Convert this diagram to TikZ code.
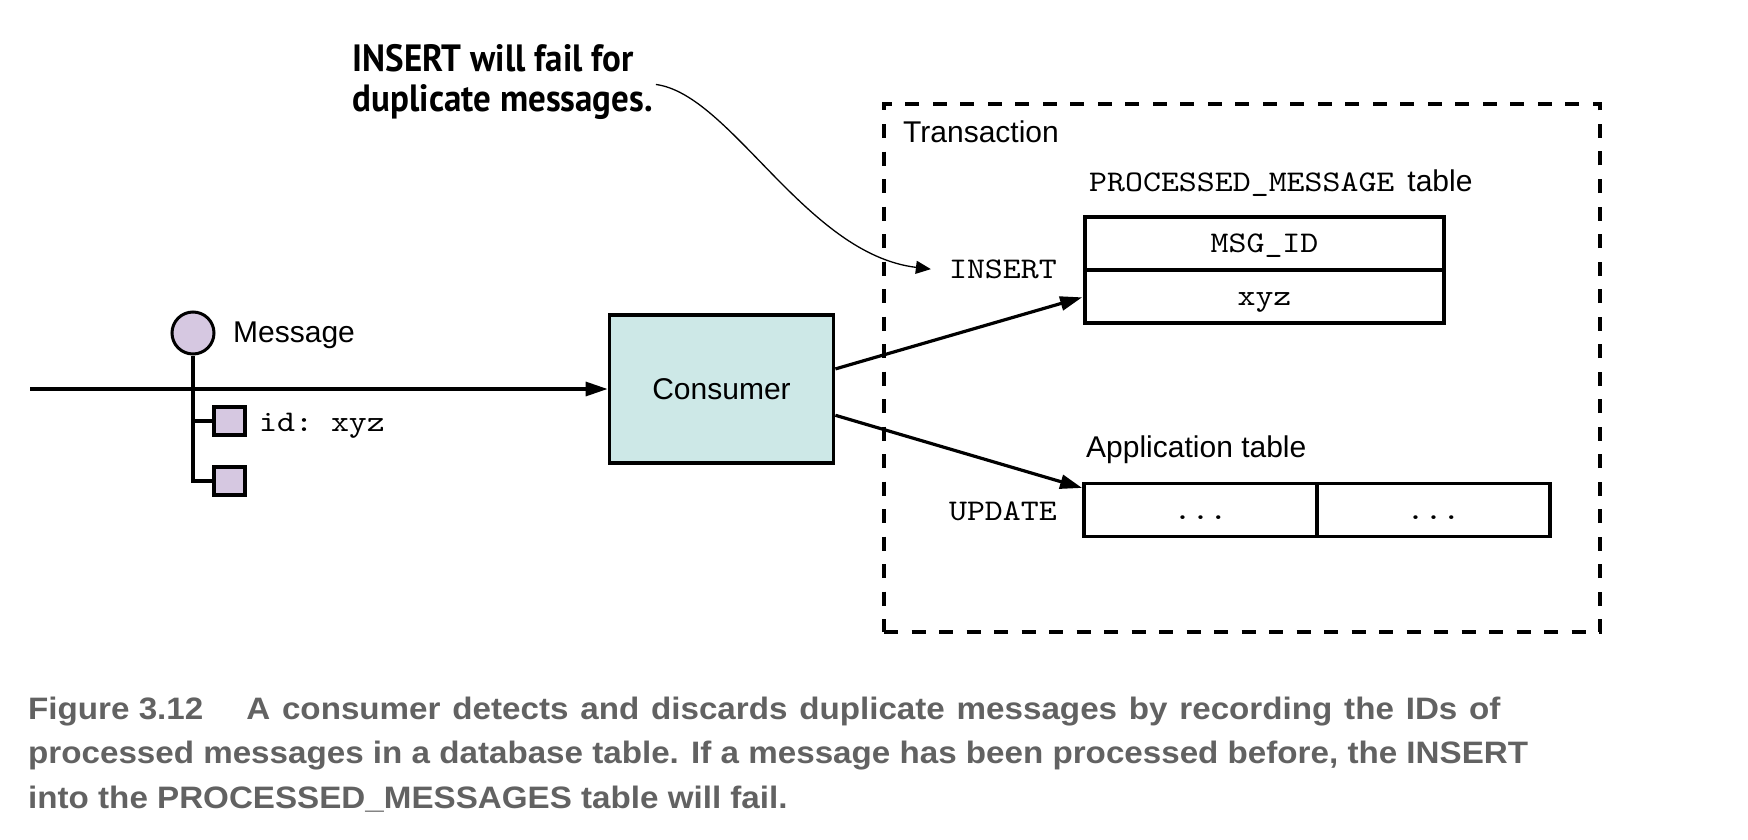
\documentclass[tikz,border=0pt]{standalone}
\usepackage{fontspec}
\setmainfont{Liberation Sans}
\setmonofont[FakeStretch=1.14]{lmmono10-regular.otf}
\newfontfamily\notefont[FakeStretch=0.92]{PT Sans}
\newfontfamily\captionfont[FakeStretch=1.07]{Liberation Sans}
\usetikzlibrary{arrows.meta,positioning,calc}

\definecolor{msgpurple}{HTML}{D6C8E1}
\definecolor{consumerteal}{HTML}{CDE8E7}
\definecolor{captiongray}{HTML}{626262}

\tikzset{
	lbl/.style={inner sep=0pt,font=\fontsize{30}{34}\selectfont},
	code/.style={inner sep=0pt,font=\fontsize{30}{34}\ttfamily},
	flow/.style={line width=3.2pt,-{Triangle[length=22pt,width=14pt]}},
	field/.style={draw,line width=3.2pt,fill=msgpurple,minimum width=31pt,minimum height=28pt,inner sep=0pt},
	tablecell/.style={draw,line width=3.6pt,outer sep=0pt,inner sep=0pt,minimum height=53pt,
		text height=22pt,text depth=4pt,font=\fontsize{30}{34}\ttfamily},
	calloutarrow/.style={line width=1.3pt,-{Triangle[length=15pt,width=13pt]}},
	notetext/.style={inner sep=0pt,font=\fontsize{38}{40}\notefont\bfseries},
	captionline/.style={inner sep=0pt,anchor=base west,text=captiongray,font=\fontsize{31}{40}\captionfont\bfseries}
}

\begin{document}
\begin{tikzpicture}[x=1pt,y=-1pt]
	\useasboundingbox (0,0) rectangle (1748,840);
	
	% message
	\node[draw,circle,line width=3pt,fill=msgpurple,minimum size=42pt,inner sep=0pt] (msg) at (193,333) {};
	\node[lbl,anchor=base west] (msglabel) at (233,342.7) {Message};
	\foreach \n/\y in {f1/421,f2/481}
	\node[field] (\n) at (229.5,\y) {};
	\draw[line width=3.2pt] (msg.south) |- (f2.west);
	\draw[line width=3.2pt] (msg.south |- f1.west) -- (f1.west);
	\node[code,anchor=base west] (idlabel) at (259,431.7) {id: xyz};
	
	% consumer
	\node[draw,line width=3.8pt,fill=consumerteal,minimum width=224pt,minimum height=148pt,
		font=\fontsize{30}{34}\selectfont] (consumer) at (721.5,389) {Consumer};
	\coordinate (in) at (30,389);
	\draw[flow] (in) -- (consumer);
	
	% transaction
	\node[draw,line width=4pt,dash pattern=on 14pt off 13.5pt,minimum width=716pt,minimum height=528pt] (txn) at (1242,368) {};
	\node[lbl,anchor=base west] (txnlabel) at (903,142.7) {Transaction};
	
	\node[lbl,anchor=base west] (pmtitle) at (1089,191.5) {{\ttfamily PROCESSED\_MESSAGE}\hspace{13pt}table};
	\node[tablecell,minimum width=359pt] (msgid) at (1264.5,243.5) {MSG\_ID};
	\node[tablecell,minimum width=359pt,below=0pt of msgid] (xyz) {xyz};
	\node[code,anchor=base east] (insert) at (1057,278.3) {INSERT};
	
	\node[lbl,anchor=base west] (apptitle) at (1086,457.3) {Application table};
	\node[tablecell,minimum width=233pt] (app1) at (1200.5,510) {...};
	\node[tablecell,minimum width=233pt,right=0pt of app1] (app2) {...};
	\node[code,anchor=base east] (update) at (1057,520) {UPDATE};
	
	\draw[flow,shorten >=3pt] (consumer.10) -- (xyz.west);
	\draw[flow,shorten >=2pt] (consumer.-13) -- ($(app1.north west)+(0,5)$);
	
	% callout
	\node[notetext,anchor=base west] (note1) at (352.6,71.7) {INSERT will fail for};
	\node[notetext,anchor=base west] (note2) at (352.6,111.7) {duplicate messages.};
	\draw[calloutarrow] ($(note2.north east)+(3,0)$) .. controls +(75,10) and +(-125,-15) .. ($(insert.west)+(-18,0)$);
	
	% caption
	\node[captionline] (cap1) at (28,719.3) {Figure 3.12\hspace{43pt}\spaceskip=11.8pt A consumer detects and discards duplicate messages by recording the IDs of};
	\node[captionline] (cap2) at (28,763.8) {processed messages in a database table. If a message has been processed before, the INSERT};
	\node[captionline] (cap3) at (28,808.3) {into the PROCESSED\_MESSAGES table will fail.};
\end{tikzpicture}
\end{document}
